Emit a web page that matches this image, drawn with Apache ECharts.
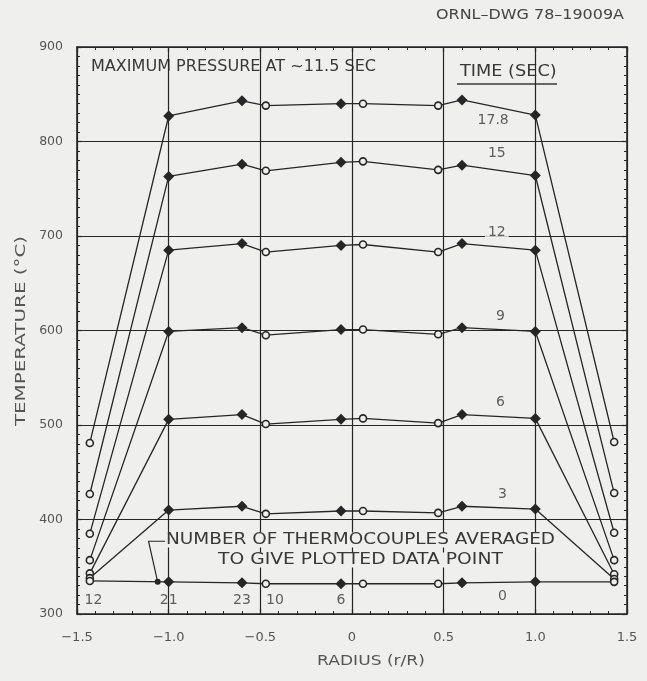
<!DOCTYPE html>
<html>
<head>
<meta charset="utf-8">
<script src="https://cdn.jsdelivr.net/npm/echarts@6/dist/echarts.min.js"></script>
<style>
html,body{margin:0;padding:0;background:#efefed;}
#c{width:647px;height:681px;}
</style>
</head>
<body>
<div id="c"></div>
<script>
// ---- data ----
var radius = [-1.43, -1.0, -0.6, -0.47, -0.06, 0.06, 0.47, 0.6, 1.0, 1.43];
var openPoint = [true, false, false, true, false, true, true, false, false, true];
var seriesNames = ['17.8', '15', '12', '9', '6', '3', '0'];
var t17_8 = [481, 827, 843, 838, 840, 840, 838, 844, 828, 482];
var t15   = [427, 763, 776, 769, 778, 779, 770, 775, 764, 428];
var t12   = [385, 685, 692, 683, 690, 691, 683, 692, 685, 386];
var t9    = [357, 599, 603, 595, 601, 601, 596, 603, 599, 357];
var t6    = [343, 506, 511, 501, 506, 507, 502, 511, 507, 342];
var t3    = [338, 410, 414, 406, 409, 409, 407, 414, 411, 337];
var t0    = [335, 334, 333, 332, 332, 332, 332, 333, 334, 334];
var allSeries = [t17_8, t15, t12, t9, t6, t3, t0];
// curve labels (time in sec) positions
var timeLabelX = [0.77, 0.79, 0.79, 0.81, 0.81, 0.82, 0.82];
var timeLabelY = [822, 787, 704, 615, 524, 427, 319];
// number of thermocouples averaged
var countLabels = ['12', '21', '23', '10', '6'];
var countX = [-1.41, -1.0, -0.6, -0.42, -0.06];
var countY = [314, 314, 314, 314, 314];
// leader line for the note
var leaderX = [-1.02, -1.11, -1.06];
var leaderY = [377, 377, 334];

var BG = '#efefed', INK = '#262626', TXT = '#383838', TICK = '#555';
var FONT = '"DejaVu Sans"';

var chart = echarts.init(document.getElementById('c'), null, {renderer: 'canvas'});

function fmtX(v) {
  if (Math.abs(v) < 1e-9) return '0';
  var s = Math.abs(v).toFixed(1);
  return (v < 0 ? '\u2212' : '') + s;
}

var series = [];
allSeries.forEach(function (vals, si) {
  series.push({
    type: 'line',
    name: seriesNames[si],
    data: vals.map(function (v, i) {
      var open = openPoint[i];
      return {
        value: [radius[i], v],
        symbol: open ? 'circle' : 'diamond',
        symbolSize: open ? 7 : 11,
        itemStyle: open ? {color: BG, borderColor: INK, borderWidth: 1.6}
                        : {color: INK, borderColor: INK, borderWidth: 0}
      };
    }),
    showSymbol: true,
    lineStyle: {color: INK, width: 1.3},
    z: 5,
    silent: true
  });
});

// time labels
series.push({
  type: 'scatter',
  data: seriesNames.map(function (n, i) { return {name: n, value: [timeLabelX[i], timeLabelY[i]]}; }),
  symbolSize: 0,
  label: {
    show: true, position: 'inside',
    formatter: function (p) { return p.name; },
    fontFamily: 'DejaVu Sans', fontSize: 14, color: TXT,
    backgroundColor: BG, padding: [0, 3]
  },
  z: 6, silent: true
});
// count labels
series.push({
  type: 'scatter',
  data: countLabels.map(function (n, i) { return {name: n, value: [countX[i], countY[i]]}; }),
  symbolSize: 0,
  label: {
    show: true, position: 'inside',
    formatter: function (p) { return p.name; },
    fontFamily: 'DejaVu Sans', fontSize: 14, color: TXT
  },
  z: 6, silent: true
});
// leader line
series.push({
  type: 'line',
  data: leaderX.map(function (x, i) {
    return {value: [x, leaderY[i]], symbol: i === leaderX.length - 1 ? 'circle' : 'none', symbolSize: 6,
            itemStyle: {color: INK}};
  }),
  lineStyle: {color: INK, width: 1.2},
  showSymbol: true, z: 6, silent: true
});

var axLine = {show: true, onZero: false, lineStyle: {color: INK, width: 1.6}};
var axTick = {show: true, inside: true, length: 5, lineStyle: {color: INK, width: 1.2}};

var option = {
  backgroundColor: BG,
  animation: false,
  grid: {left: 77, right: 20, top: 47, bottom: 67, containLabel: false},
  xAxis: [
    {
      type: 'value', min: -1.5, max: 1.5, interval: 0.5, position: 'bottom',
      axisLine: axLine, axisTick: axTick,
      minorTick: {show: true, splitNumber: 5, length: 3, lineStyle: {color: INK, width: 1}},
      splitLine: {show: true, lineStyle: {color: INK, width: 1.2}},
      axisLabel: {formatter: fmtX, color: TICK, fontFamily: 'DejaVu Sans', fontSize: 13, margin: 17}
    },
    {
      type: 'value', min: -1.5, max: 1.5, interval: 0.5, position: 'top',
      axisLine: axLine, axisTick: axTick,
      minorTick: {show: true, splitNumber: 5, length: 3, lineStyle: {color: INK, width: 1}},
      splitLine: {show: false}, axisLabel: {show: false}
    }
  ],
  yAxis: [
    {
      type: 'value', min: 300, max: 900, interval: 100, position: 'left',
      axisLine: axLine, axisTick: axTick,
      minorTick: {show: true, splitNumber: 10, length: 3, lineStyle: {color: INK, width: 1}},
      splitLine: {show: true, lineStyle: {color: INK, width: 1.2}},
      axisLabel: {color: TICK, fontFamily: 'DejaVu Sans', fontSize: 12.5, margin: 14}
    },
    {
      type: 'value', min: 300, max: 900, interval: 100, position: 'right',
      axisLine: axLine, axisTick: axTick,
      minorTick: {show: true, splitNumber: 10, length: 3, lineStyle: {color: INK, width: 1}},
      splitLine: {show: false}, axisLabel: {show: false}
    }
  ],
  graphic: [
    {type: 'text', x: 436, y: 15, scaleX: 1.14,
     style: {text: 'ORNL\u2013DWG 78\u201319009A', fill: '#444', font: '14px ' + FONT, align: 'left', verticalAlign: 'middle'}},
    {type: 'text', x: 91, y: 67, scaleX: 1.07,
     style: {text: 'MAXIMUM PRESSURE AT ~11.5 SEC', fill: TXT, font: '15px ' + FONT, align: 'left', verticalAlign: 'middle'}},
    {type: 'text', x: 460, y: 72, scaleX: 1.18,
     style: {text: 'TIME (SEC)', fill: TXT, font: '15px ' + FONT, align: 'left', verticalAlign: 'middle'}},
    {type: 'line', shape: {x1: 457, y1: 84, x2: 557, y2: 84}, style: {stroke: TXT, lineWidth: 1.4}},
    {type: 'text', x: 166, y: 540, scaleX: 1.23, z: 10,
     style: {text: 'NUMBER OF THERMOCOUPLES AVERAGED', fill: TXT, font: '15px ' + FONT, align: 'left', verticalAlign: 'middle', backgroundColor: BG}},
    {type: 'text', x: 218, y: 560, scaleX: 1.25, z: 10,
     style: {text: 'TO GIVE PLOTTED DATA POINT', fill: TXT, font: '15px ' + FONT, align: 'left', verticalAlign: 'middle', backgroundColor: BG}},
    {type: 'text', x: 21, y: 331, rotation: Math.PI / 2, scaleX: 1.42,
     style: {text: 'TEMPERATURE (\u00B0C)', fill: TICK, font: '14px ' + FONT, align: 'center', verticalAlign: 'middle'}},
    {type: 'text', x: 371, y: 661, scaleX: 1.22,
     style: {text: 'RADIUS (r/R)', fill: TICK, font: '14px ' + FONT, align: 'center', verticalAlign: 'middle'}}
  ],
  series: series
};
chart.setOption(option);
</script>
</body>
</html>
